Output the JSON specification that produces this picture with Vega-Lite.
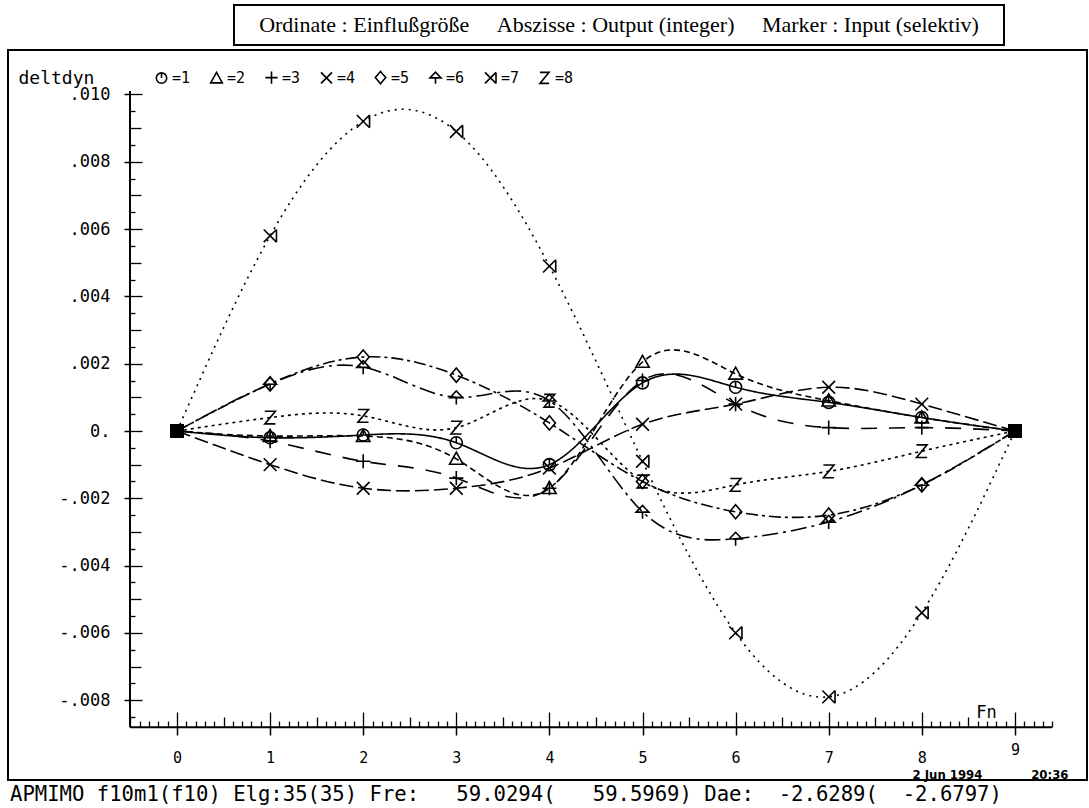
{
  "$schema": "https://vega.github.io/schema/vega-lite/v6.json",
  "padding": {"left": 7, "top": 4, "right": 0, "bottom": 0},
  "background": "white",
  "config": {"view": {"stroke": null}, "font": "DejaVu Sans Mono"},
  "spacing": 3,
  "resolve": {"legend": {"shape": "independent"}},
  "vconcat": [
    {
      "spacing": 0,
      "hconcat": [
        {
          "width": 225, "height": 40,
          "view": {"stroke": null},
          "data": {"values": [{"t": ""}]},
          "mark": {"type": "text"},
          "encoding": {"text": {"field": "t"}}
        },
        {
          "width": 770, "height": 40,
          "view": {"stroke": "black", "strokeWidth": 2},
          "data": {"values": [{"t": "Ordinate : Einflußgröße\u00a0\u00a0\u00a0\u00a0\u00a0Abszisse : Output (integer)\u00a0\u00a0\u00a0\u00a0\u00a0Marker : Input (selektiv)"}]},
          "mark": {"type": "text", "font": "Liberation Serif", "fontSize": 22, "color": "black"},
          "encoding": {"text": {"field": "t"}}
        }
      ]
    },
    {
      "width": 1079, "height": 730,
      "view": {"stroke": "black", "strokeWidth": 2},
      "title": {
        "text": "APMIMO f10m1(f10) Elg:35(35) Fre:\u00a0\u00a0\u00a059.0294(\u00a0\u00a0\u00a059.5969) Dae:\u00a0\u00a0-2.6289(\u00a0\u00a0-2.6797)",
        "orient": "bottom", "anchor": "start", "frame": "group", "offset": 4, "dx": 2,
        "font": "DejaVu Sans Mono", "fontSize": 20.6, "fontWeight": "normal", "color": "black", "baseline": "top"
      },
      "data": {"values": [
        {"s": "1", "x": 0, "y": 0}, {"s": "1", "x": 1, "y": -0.0002}, {"s": "1", "x": 2, "y": -0.00012}, {"s": "1", "x": 3, "y": -0.00035}, {"s": "1", "x": 4, "y": -0.001}, {"s": "1", "x": 5, "y": 0.00143}, {"s": "1", "x": 6, "y": 0.0013}, {"s": "1", "x": 7, "y": 0.00085}, {"s": "1", "x": 8, "y": 0.0004}, {"s": "1", "x": 9, "y": 0},
        {"s": "2", "x": 0, "y": 0}, {"s": "2", "x": 1, "y": -0.00015}, {"s": "2", "x": 2, "y": -0.00015}, {"s": "2", "x": 3, "y": -0.00083}, {"s": "2", "x": 4, "y": -0.0017}, {"s": "2", "x": 5, "y": 0.00205}, {"s": "2", "x": 6, "y": 0.0017}, {"s": "2", "x": 7, "y": 0.0009}, {"s": "2", "x": 8, "y": 0.0004}, {"s": "2", "x": 9, "y": 0},
        {"s": "3", "x": 0, "y": 0}, {"s": "3", "x": 1, "y": -0.0003}, {"s": "3", "x": 2, "y": -0.0009}, {"s": "3", "x": 3, "y": -0.0014}, {"s": "3", "x": 4, "y": -0.0017}, {"s": "3", "x": 5, "y": 0.0015}, {"s": "3", "x": 6, "y": 0.0008}, {"s": "3", "x": 7, "y": 0.0001}, {"s": "3", "x": 8, "y": 0.0001}, {"s": "3", "x": 9, "y": 0},
        {"s": "4", "x": 0, "y": 0}, {"s": "4", "x": 1, "y": -0.001}, {"s": "4", "x": 2, "y": -0.0017}, {"s": "4", "x": 3, "y": -0.0017}, {"s": "4", "x": 4, "y": -0.0011}, {"s": "4", "x": 5, "y": 0.0002}, {"s": "4", "x": 6, "y": 0.0008}, {"s": "4", "x": 7, "y": 0.0013}, {"s": "4", "x": 8, "y": 0.0008}, {"s": "4", "x": 9, "y": 0},
        {"s": "5", "x": 0, "y": 0}, {"s": "5", "x": 1, "y": 0.0014}, {"s": "5", "x": 2, "y": 0.0022}, {"s": "5", "x": 3, "y": 0.00166}, {"s": "5", "x": 4, "y": 0.00024}, {"s": "5", "x": 5, "y": -0.0015}, {"s": "5", "x": 6, "y": -0.0024}, {"s": "5", "x": 7, "y": -0.0025}, {"s": "5", "x": 8, "y": -0.0016}, {"s": "5", "x": 9, "y": 0},
        {"s": "6", "x": 0, "y": 0}, {"s": "6", "x": 1, "y": 0.0014}, {"s": "6", "x": 2, "y": 0.0019}, {"s": "6", "x": 3, "y": 0.001}, {"s": "6", "x": 4, "y": 0.0009}, {"s": "6", "x": 5, "y": -0.0024}, {"s": "6", "x": 6, "y": -0.0032}, {"s": "6", "x": 7, "y": -0.0027}, {"s": "6", "x": 8, "y": -0.0016}, {"s": "6", "x": 9, "y": 0},
        {"s": "7", "x": 0, "y": 0}, {"s": "7", "x": 1, "y": 0.0058}, {"s": "7", "x": 2, "y": 0.0092}, {"s": "7", "x": 3, "y": 0.0089}, {"s": "7", "x": 4, "y": 0.0049}, {"s": "7", "x": 5, "y": -0.0009}, {"s": "7", "x": 6, "y": -0.006}, {"s": "7", "x": 7, "y": -0.0079}, {"s": "7", "x": 8, "y": -0.0054}, {"s": "7", "x": 9, "y": 0},
        {"s": "8", "x": 0, "y": 0}, {"s": "8", "x": 1, "y": 0.0004}, {"s": "8", "x": 2, "y": 0.00045}, {"s": "8", "x": 3, "y": 0.0001}, {"s": "8", "x": 4, "y": 0.0009}, {"s": "8", "x": 5, "y": -0.0015}, {"s": "8", "x": 6, "y": -0.0016}, {"s": "8", "x": 7, "y": -0.0012}, {"s": "8", "x": 8, "y": -0.0006}, {"s": "8", "x": 9, "y": 0}
      ]},
      "resolve": {"axis": {"x": "independent", "y": "independent"}},
      "layer": [
        {
          "mark": {"type": "line", "interpolate": "natural", "color": "black", "strokeWidth": 1.6},
          "encoding": {
            "x": {
              "field": "x", "type": "quantitative",
              "scale": {"domain": [-1.8153, 9.7744], "nice": false, "zero": false},
              "axis": {
                "orient": "bottom", "offset": -53, "values": [0, 1, 2, 3, 4, 5, 6, 7, 8, 9],
                "tickSize": 8, "tickWidth": 1.5, "tickColor": "black", "domain": false, "grid": false,
                "labelFont": "DejaVu Sans Mono", "labelFontSize": 15, "labelColor": "black",
                "labelPadding": {"condition": {"test": "datum.value == 9", "value": 7}, "value": 15},
                "labelFlush": false, "labelOverlap": false,
                "title": "Fn", "titleFont": "DejaVu Sans Mono", "titleFontSize": 17, "titleFontWeight": "normal",
                "titleColor": "black", "titleX": 978, "titleY": -15, "titleBaseline": "middle", "titleAlign": "center"
              }
            },
            "y": {
              "field": "y", "type": "quantitative",
              "scale": {"domain": [-0.010371, 0.011322], "nice": false, "zero": false},
              "axis": {
                "orient": "left", "offset": -122,
                "values": [-0.008, -0.006, -0.004, -0.002, 0, 0.002, 0.004, 0.006, 0.008, 0.01],
                "tickSize": 6, "tickWidth": 1.5, "tickColor": "black", "domain": false, "grid": false,
                "labelExpr": "datum.value == 0 ? '0.' : replace(replace(format(datum.value, '.3f'), '0.', '.'), '\u2212', '-')",
                "labelFont": "DejaVu Sans Mono", "labelFontSize": 17, "labelColor": "black", "labelPadding": 14,
                "labelFlush": false, "labelOverlap": false,
                "title": "deltdyn", "titleAngle": 0, "titleX": -112, "titleY": 28, "titleAlign": "left",
                "titleBaseline": "middle", "titleFont": "DejaVu Sans Mono", "titleFontSize": 18,
                "titleFontWeight": "normal", "titleColor": "black"
              }
            },
            "strokeDash": {
              "field": "s", "type": "nominal",
              "scale": {"range": [[1, 0], [6, 4], [16, 12], [14, 5], [12, 4, 3, 4], [16, 5, 3, 5], [2, 5], [3, 4]]},
              "legend": null
            }
          }
        },
        {
          "transform": [{"filter": "datum.x > 0 && datum.x < 9"}],
          "mark": {"type": "point", "filled": false, "color": "black", "strokeWidth": 1.6, "size": 200, "opacity": 1},
          "encoding": {
            "x": {
              "field": "x", "type": "quantitative",
              "axis": {
                "orient": "bottom", "offset": -53, "labels": false, "domain": false, "grid": false, "title": null,
                "tickColor": "black", "tickWidth": 1.3,
                "values": [-0.5, -0.4, -0.3, -0.2, -0.1, 0, 0.1, 0.2, 0.3, 0.4, 0.5, 0.6, 0.7, 0.8, 0.9, 1, 1.1, 1.2, 1.3, 1.4, 1.5, 1.6, 1.7, 1.8, 1.9, 2, 2.1, 2.2, 2.3, 2.4, 2.5, 2.6, 2.7, 2.8, 2.9, 3, 3.1, 3.2, 3.3, 3.4, 3.5, 3.6, 3.7, 3.8, 3.9, 4, 4.1, 4.2, 4.3, 4.4, 4.5, 4.6, 4.7, 4.8, 4.9, 5, 5.1, 5.2, 5.3, 5.4, 5.5, 5.6, 5.7, 5.8, 5.9, 6, 6.1, 6.2, 6.3, 6.4, 6.5, 6.6, 6.7, 6.8, 6.9, 7, 7.1, 7.2, 7.3, 7.4, 7.5, 7.6, 7.7, 7.8, 7.9, 8, 8.1, 8.2, 8.3, 8.4, 8.5, 8.6, 8.7, 8.8, 8.9, 9, 9.1, 9.2, 9.3, 9.4],
                "tickSize": {"condition": [
                  {"test": "abs(datum.value - round(datum.value)) < 0.01", "value": -15},
                  {"test": "abs(datum.value * 2 - round(datum.value * 2)) < 0.01", "value": -10}
                ], "value": -6}
              }
            },
            "y": {
              "field": "y", "type": "quantitative",
              "axis": {
                "orient": "left", "offset": -122, "labels": false, "domain": false, "grid": false, "title": null,
                "tickColor": "black", "tickWidth": 1.3,
                "values": [-0.0085, -0.008, -0.0075, -0.007, -0.0065, -0.006, -0.0055, -0.005, -0.0045, -0.004, -0.0035, -0.003, -0.0025, -0.002, -0.0015, -0.001, -0.0005, 0, 0.0005, 0.001, 0.0015, 0.002, 0.0025, 0.003, 0.0035, 0.004, 0.0045, 0.005, 0.0055, 0.006, 0.0065, 0.007, 0.0075, 0.008, 0.0085, 0.009, 0.0095, 0.01],
                "tickSize": {"condition": [
                  {"test": "abs(datum.value / 0.002 - round(datum.value / 0.002)) < 0.01", "value": -12},
                  {"test": "abs(datum.value / 0.001 - round(datum.value / 0.001)) < 0.01", "value": -11}
                ], "value": -5}
              }
            },
            "shape": {
              "field": "s", "type": "nominal",
              "scale": {
                "domain": ["1", "2", "3", "4", "5", "6", "7", "8"],
                "range": [
                  "M-0.85,0A0.85,0.85 0 1,0 0.85,0A0.85,0.85 0 1,0 -0.85,0M0,-0.85L0,0",
                  "M0,-0.95L0.95,0.75L-0.95,0.75Z",
                  "M-1,0L1,0M0,-1L0,1",
                  "M-0.9,-0.9L0.9,0.9M-0.9,0.9L0.9,-0.9",
                  "M0,-1L0.85,0L0,1L-0.85,0Z",
                  "M-0.9,0.05L0,-0.9L0.9,0.05ZM0,0.05L0,1",
                  "M-0.9,-0.9L0.9,0.9M-0.9,0.9L0.9,-0.9M0.9,-0.9L0.9,0.9",
                  "M-0.75,-0.9L0.75,-0.9L-0.75,0.9L0.75,0.9"
                ]
              },
              "legend": {
                "orient": "none", "legendX": 146, "legendY": 20, "direction": "horizontal", "title": null,
                "labelExpr": "'=' + datum.label", "labelFont": "DejaVu Sans Mono", "labelFontSize": 15,
                "labelColor": "black", "symbolStrokeWidth": 1.6, "symbolSize": 150, "symbolStrokeColor": "black",
                "symbolFillColor": "transparent", "columnPadding": 16, "labelOffset": 3
              }
            }
          }
        },
        {
          "transform": [{"filter": "datum.x == 0 || datum.x == 9"}],
          "mark": {"type": "point", "shape": "square", "filled": true, "color": "black", "size": 180, "opacity": 1},
          "encoding": {
            "x": {
              "field": "x", "type": "quantitative",
              "axis": {
                "orient": "bottom", "offset": -53, "ticks": false, "labels": false, "domain": false, "grid": false,
                "title": "2 Jun 1994\u00a0\u00a0\u00a0\u00a0\u00a0\u00a0\u00a0\u00a0\u00a0\u00a0\u00a0\u00a020:36",
                "titleFont": "Liberation Sans Narrow, DejaVu Sans Condensed, sans-serif", "titleFontSize": 13,
                "titleFontWeight": "bold", "titleColor": "black", "titleX": 982, "titleY": 47,
                "titleAlign": "center", "titleBaseline": "middle"
              }
            },
            "y": {"field": "y", "type": "quantitative", "axis": null}
          }
        },
        {
          "data": {"values": [{}]},
          "mark": {"type": "rule", "color": "black", "strokeWidth": 2},
          "encoding": {
            "x": {"datum": -0.5048, "type": "quantitative", "axis": null},
            "y": {"datum": -0.0088, "type": "quantitative", "axis": null},
            "y2": {"datum": 0.0101}
          }
        },
        {
          "data": {"values": [{}]},
          "mark": {"type": "rule", "color": "black", "strokeWidth": 2},
          "encoding": {
            "x": {"datum": -0.5048, "type": "quantitative", "axis": null},
            "x2": {"datum": 9.398},
            "y": {"datum": -0.0088, "type": "quantitative", "axis": null}
          }
        }
      ]
    }
  ]
}
